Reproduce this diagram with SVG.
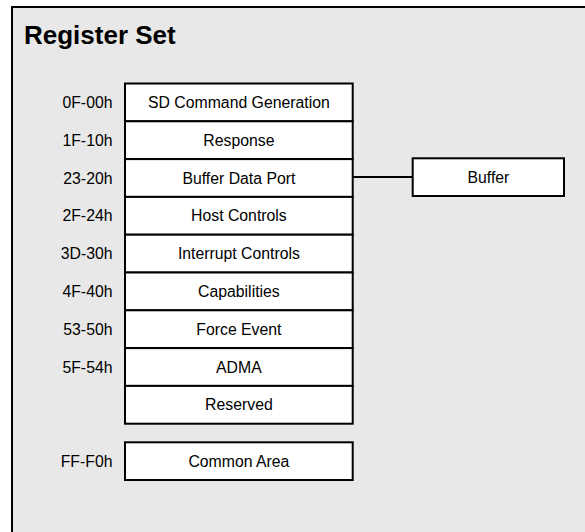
<svg xmlns="http://www.w3.org/2000/svg" width="585" height="532" viewBox="0 0 585 532">
<style>
.box{fill:#ffffff;stroke:#000000;stroke-width:2}
.t{font-family:"Liberation Sans",Arial,sans-serif;font-size:15.8px;fill:#000000;text-anchor:middle;dominant-baseline:central}
.l{font-family:"Liberation Sans",Arial,sans-serif;font-size:15.8px;fill:#000000;text-anchor:end;dominant-baseline:central}
.ttl{font-family:"Liberation Sans",Arial,sans-serif;font-size:26px;font-weight:bold;fill:#000000}
.c{stroke:#000000;stroke-width:2;fill:none}
</style>
<g id="frame">
<rect x="12" y="7" width="620" height="560" fill="#e8e8e8" stroke="#000000" stroke-width="2"/>
<text class="ttl" x="24" y="44">Register Set</text>
</g>
<g id="labels">
<text class="l" x="112.5" y="102.4">0F-00h</text>
<text class="l" x="112.5" y="140.2">1F-10h</text>
<text class="l" x="112.5" y="178">23-20h</text>
<text class="l" x="112.5" y="215.8">2F-24h</text>
<text class="l" x="112.5" y="253.6">3D-30h</text>
<text class="l" x="112.5" y="291.4">4F-40h</text>
<text class="l" x="112.5" y="329.2">53-50h</text>
<text class="l" x="112.5" y="367">5F-54h</text>
<text class="l" x="112.5" y="461.2">FF-F0h</text>
</g>
<g id="sd-command-generation"><rect class="box" x="125" y="83.5" width="227.7" height="37.8"/><text class="t" x="238.9" y="102.4">SD Command Generation</text></g>
<g id="response"><rect class="box" x="125" y="121.3" width="227.7" height="37.8"/><text class="t" x="238.9" y="140.2">Response</text></g>
<g id="buffer-data-port"><rect class="box" x="125" y="159.1" width="227.7" height="37.8"/><text class="t" x="238.9" y="178">Buffer Data Port</text></g>
<g id="host-controls"><rect class="box" x="125" y="196.9" width="227.7" height="37.8"/><text class="t" x="238.9" y="215.8">Host Controls</text></g>
<g id="interrupt-controls"><rect class="box" x="125" y="234.7" width="227.7" height="37.8"/><text class="t" x="238.9" y="253.6">Interrupt Controls</text></g>
<g id="capabilities"><rect class="box" x="125" y="272.5" width="227.7" height="37.8"/><text class="t" x="238.9" y="291.4">Capabilities</text></g>
<g id="force-event"><rect class="box" x="125" y="310.3" width="227.7" height="37.8"/><text class="t" x="238.9" y="329.2">Force Event</text></g>
<g id="adma"><rect class="box" x="125" y="348.1" width="227.7" height="37.8"/><text class="t" x="238.9" y="367">ADMA</text></g>
<g id="reserved"><rect class="box" x="125" y="385.9" width="227.7" height="37.8"/><text class="t" x="238.9" y="404.8">Reserved</text></g>
<g id="common-area"><rect class="box" x="125" y="442.3" width="227.7" height="37.7"/><text class="t" x="238.9" y="461.2">Common Area</text></g>
<g id="buffer"><rect class="box" x="412.7" y="158.3" width="151.3" height="37.7"/><text class="t" x="488.4" y="177.2">Buffer</text></g>
<g id="connectors">
<line class="c" x1="352.7" y1="177" x2="412.7" y2="177"/>
</g>
</svg>
